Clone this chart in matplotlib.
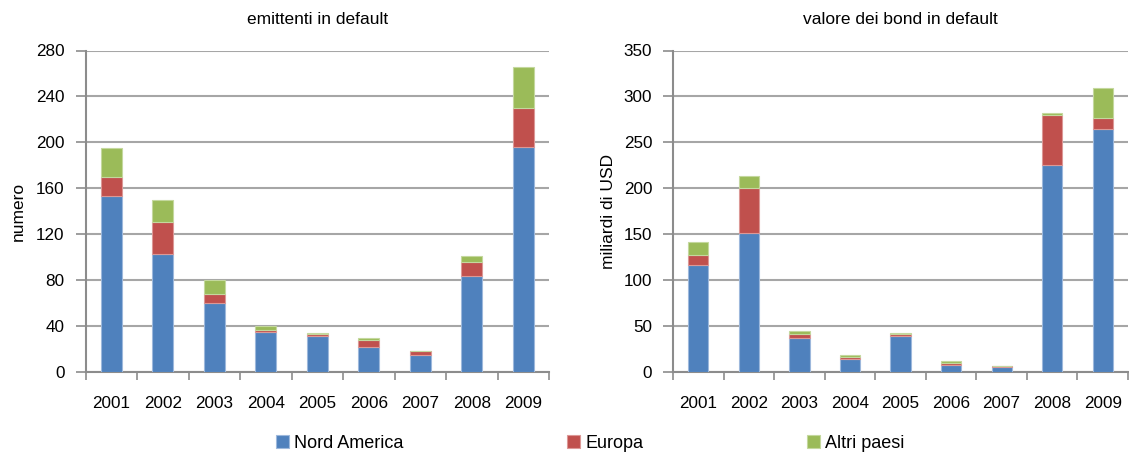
import matplotlib
matplotlib.use("Agg")
import matplotlib.pyplot as plt
import numpy as np
from matplotlib.ticker import FixedLocator

years = ["2001", "2002", "2003", "2004", "2005", "2006", "2007", "2008", "2009"]
series_names = ["Nord America", "Europa", "Altri paesi"]

# emittenti in default (numero)
issuers_na = [153, 103, 60, 35, 31, 22, 15, 84, 196]
issuers_eu = [17, 28, 8, 2, 2, 5.5, 3, 12, 34]
issuers_ot = [25, 19, 12, 3, 1, 2, 0, 5, 36]

# valore dei bond in default (miliardi di USD)
value_na = [117, 151, 37, 14.5, 39.5, 8, 5, 225, 265]
value_eu = [10, 49, 4, 2, 1.5, 2, 2, 55, 12]
value_ot = [14, 13, 4, 2, 1.5, 2, 0, 2, 32]

colors = ["#4F81BD", "#C0504D", "#9BBB59"]
edges = ["#9DB8DC", "#DC9896", "#C4D89E"]

plt.rcParams['font.family'] = ['Liberation Sans Narrow', 'Liberation Sans', 'DejaVu Sans']
tick_font = ['Liberation Sans', 'DejaVu Sans']

W, H = 1129, 457
fig = plt.figure(figsize=(W / 100, H / 100), dpi=100)

def fx(px):
    return px / W

def fy(py):
    return 1 - py / H

top, bottom = 50.5, 372
ax1 = fig.add_axes([fx(85.5), fy(bottom), fx(549 - 85.5), (bottom - top) / H])
ax2 = fig.add_axes([fx(673), fy(bottom), fx(1128 - 673), (bottom - top) / H])

def draw(ax, data, ymax, ystep, title, ylabel):
    x = np.arange(len(years))
    base = np.zeros(len(years))
    handles = []
    for vals, c, e, name in zip(data, colors, edges, series_names):
        v = np.array(vals, dtype=float)
        h = ax.bar(x, v, width=0.4, bottom=base, color=c, edgecolor=e,
                   linewidth=0.8, label=name, zorder=3)
        handles.append(h)
        base += v
    ax.set_xlim(-0.5, len(years) - 0.5)
    ax.set_ylim(0, ymax)
    ax.set_yticks(np.arange(0, ymax + 1, ystep))
    ax.set_xticks(x)
    ax.set_xticklabels(years, fontfamily=tick_font, fontsize=12.3)
    for lab in ax.get_yticklabels():
        lab.set_fontfamily(tick_font)
        lab.set_fontsize(12.3)
    ax.xaxis.set_minor_locator(FixedLocator(np.arange(-0.5, len(years), 1.0)))
    ax.tick_params(axis='x', which='major', length=0, pad=17, colors='#000000')
    ax.tick_params(axis='x', which='minor', length=6, width=1.2, color='#8c8c8c', direction='out')
    ax.tick_params(axis='y', which='major', length=7, width=1.2, color='#8c8c8c', direction='out', pad=8)
    ax.grid(axis='y', color='#a6a6a6', linewidth=1.5, zorder=0)
    ax.set_axisbelow(True)
    for s in ['top', 'right']:
        ax.spines[s].set_visible(False)
    for s in ['left', 'bottom']:
        ax.spines[s].set_color('#8c8c8c')
        ax.spines[s].set_linewidth(1.5)
    ax.set_title(title, fontsize=12.5, pad=19)
    ax.set_ylabel(ylabel, fontsize=12.5)
    return handles

handles = draw(ax1, [issuers_na, issuers_eu, issuers_ot], 280, 40,
               "emittenti in default", "numero")
draw(ax2, [value_na, value_eu, value_ot], 350, 50,
     "valore dei bond in default", "miliardi di USD")

ax1.yaxis.set_label_coords(fx(26 - 85.5) / fx(549 - 85.5), 0.5)
ax2.yaxis.set_label_coords(fx(616 - 673) / fx(1128 - 673), 0.5)

leg_x = [276, 567, 807]
for hnd, name, lx in zip(handles, series_names, leg_x):
    fig.legend([hnd], [name], loc='center left', bbox_to_anchor=(fx(lx), fy(443)),
               frameon=False, fontsize=13, handlelength=0.7, handleheight=0.7,
               handletextpad=0.3, borderaxespad=0, borderpad=0)

fig.savefig("out.png", dpi=100)
